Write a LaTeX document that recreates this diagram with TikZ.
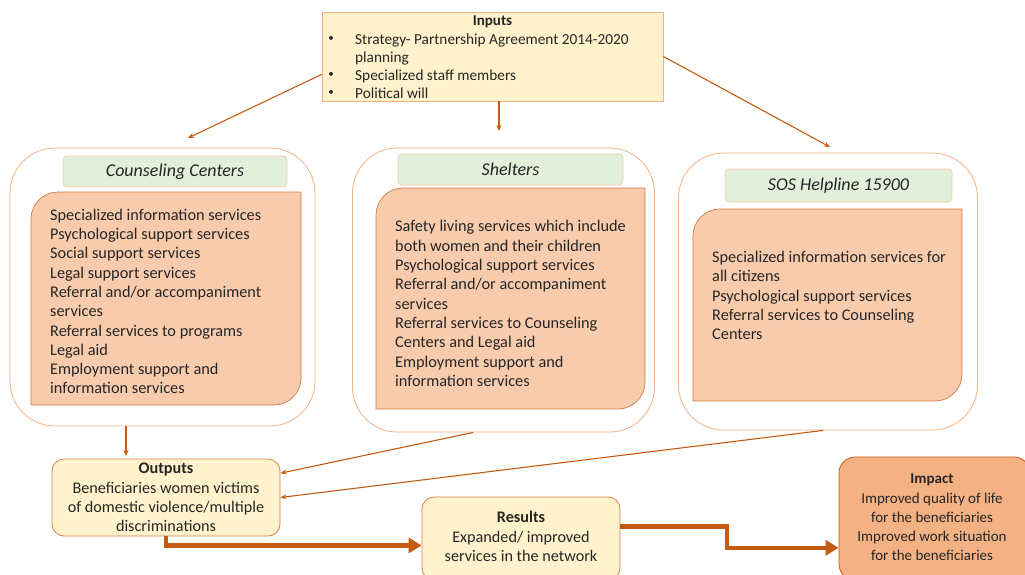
\documentclass[tikz,border=0pt]{standalone}
\usepackage{fontspec}
\setmainfont{Carlito}
\usetikzlibrary{arrows.meta}
\definecolor{arr}{HTML}{C55A11}
\definecolor{peach}{HTML}{F8CBAD}
\definecolor{peachline}{HTML}{F4B183}
\definecolor{cream}{HTML}{FFF2CC}
\definecolor{greenfill}{HTML}{E2EFDA}
\definecolor{txt}{HTML}{262626}
\definecolor{impfill}{HTML}{F4B183}
\newcommand{\innerpanel}[4]{%
  \draw[panel] (#1,#4) -- (#1,#2+27) arc[start angle=180,end angle=270,radius=27]
    -- (#3,#2) -- (#3,#4-27) arc[start angle=0,end angle=90,radius=27] -- cycle;}
\begin{document}
\begin{tikzpicture}[x=1pt,y=-1pt,
  every node/.style={text=txt},
  outerbox/.style={draw=peachline, line width=0.8pt, fill=white, rounded corners=45pt, inner sep=0pt},
  header/.style={draw=peach, line width=0.8pt, fill=greenfill, rounded corners=4pt, inner sep=0pt,
    font=\fontsize{18}{20}\selectfont\itshape},
  panel/.style={draw=arr!80, line width=0.7pt, fill=peach},
  listtext/.style={anchor=west, align=left, inner sep=0pt, font=\fontsize{16.3}{19.3}\selectfont},
  resbox/.style={draw=arr!75, line width=0.8pt, fill=cream, rounded corners=12pt, inner sep=0pt,
    align=center, font=\fontsize{16.2}{19.3}\selectfont},
  thinarrow/.style={draw=arr, line width=1.1pt, -{Stealth[length=6pt,width=5pt]}},
  thickarrow/.style={draw=arr, line width=4.5pt, -{Triangle[length=13pt,width=15pt]}}
]
\useasboundingbox (0,0) rectangle (1025,574);

% Inputs
\node[draw=peachline, line width=0.8pt, fill=cream, minimum width=341pt, minimum height=89pt, inner sep=0pt] (in) at (492.5,56.5) {};
\node[font=\fontsize{15}{17}\selectfont\bfseries, inner sep=0pt] (intitle) at (492.5,21.5) {Inputs};
\node[font=\fontsize{11}{14}\selectfont, inner sep=0pt] (b1) at (331,39) {•};
\node[font=\fontsize{11}{14}\selectfont, inner sep=0pt] (b2) at (331,75) {•};
\node[font=\fontsize{11}{14}\selectfont, inner sep=0pt] (b3) at (331,93) {•};
\node[anchor=west, align=left, inner sep=0pt, font=\fontsize{15.3}{18}\selectfont] (inlist) at (355,66.5)
  {Strategy- Partnership Agreement 2014-2020\\planning\\Specialized staff members\\Political will};

% Counseling Centers
\node[outerbox, minimum width=305pt, minimum height=278pt] (cc) at (162.5,287) {};
\node[header, minimum width=224pt, minimum height=31pt] (cch) at (175,171.5) {Counseling Centers};
\innerpanel{31}{192}{301}{405}
\node[listtext] (cct) at (50,301.5) {Specialized information services\\Psychological support services\\Social support services\\Legal support services\\Referral and/or accompaniment\\services\\Referral services to programs\\Legal aid\\Employment support and\\information services};

% Shelters
\node[outerbox, minimum width=302pt, minimum height=284pt] (sh) at (503.5,290) {};
\node[header, minimum width=225pt, minimum height=31pt] (shh) at (510.5,169.5) {Shelters};
\innerpanel{376}{188}{645}{409}
\node[listtext] (sht) at (395,303.5) {Safety living services which include\\both women and their children\\Psychological support services\\Referral and/or accompaniment\\services\\Referral services to Counseling\\Centers and Legal aid\\Employment support and\\information services};

% SOS Helpline
\node[outerbox, minimum width=299pt, minimum height=277pt] (sos) at (828,291.5) {};
\node[header, minimum width=227pt, minimum height=33pt] (sosh) at (838.5,185.5) {SOS Helpline 15900};
\innerpanel{693}{209}{962}{401}
\node[listtext] (sost) at (712,295.5) {Specialized information services for\\all citizens\\Psychological support services\\Referral services to Counseling\\Centers};

% Outputs, Results, Impact
\node[resbox, minimum width=228pt, minimum height=77pt] (out) at (166,497.5)
  {\textbf{Outputs}\\Beneficiaries women victims\\of domestic violence/multiple\\discriminations};
\node[resbox, minimum width=198pt, minimum height=83pt] (res) at (521,538.5) {};
\node[align=center, inner sep=0pt, font=\fontsize{16.2}{19.5}\selectfont] (rest) at (521,536.5)
  {\textbf{Results}\\Expanded/ improved\\services in the network};
\node[draw=arr, line width=0.8pt, fill=impfill, rounded corners=16pt, minimum width=191pt, minimum height=123pt, inner sep=0pt] (imp) at (934.5,518.5) {};
\node[align=center, inner sep=0pt, font=\fontsize{15}{19.3}\selectfont] (impt) at (932,517.5)
  {\textbf{Impact}\\Improved quality of life\\for the beneficiaries\\Improved work situation\\for the beneficiaries};

% connectors
\coordinate (t1) at (188,138);
\coordinate (t2) at (499,131);
\coordinate (t3) at (830,147);
\coordinate (t4) at (126,456);
\coordinate (mid) at (727,0);
\draw[thinarrow] (in.186) -- (t1);
\draw[thinarrow] (in.south -| t2) -- (t2);
\draw[thinarrow] (in.east) -- (t3);
\draw[thinarrow] (cc.south -| t4) -- (t4);
\draw[thinarrow] (sh.-102) -- (out.12);
\draw[thinarrow] (sos.-92) -- (out.0);
\draw[thickarrow] (out.south) |- (res.184);
\draw[thickarrow] (res.7) -| (mid |- imp.197) -- (imp.197);
\end{tikzpicture}
\end{document}
